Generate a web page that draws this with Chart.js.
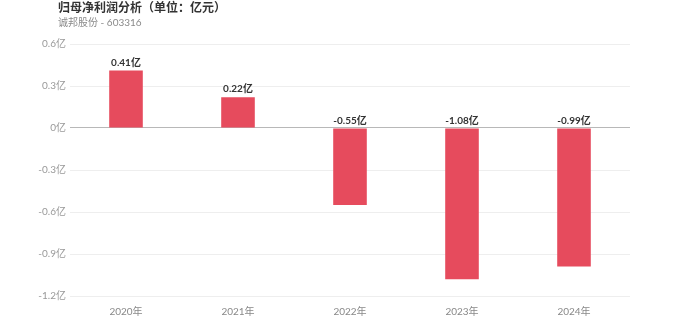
<!DOCTYPE html>
<html>
<head>
<meta charset="utf-8">
<script src="https://cdn.jsdelivr.net/npm/chart.js@4/dist/chart.umd.min.js"></script>
<style>
  html, body { margin: 0; padding: 0; background: #fff; }
  #wrap { width: 700px; height: 336px; position: relative; }
</style>
</head>
<body>
<div id="wrap"><canvas id="c" width="700" height="336"></canvas></div>
<script>
const years = ['2020年', '2021年', '2022年', '2023年', '2024年'];
const netProfit = [0.41, 0.22, -0.55, -1.08, -0.99];
const yTicks = [0.6, 0.3, 0, -0.3, -0.6, -0.9, -1.2];
const titleText = '归母净利润分析（单位：亿元）';
const subtitleText = '诚邦股份 - 603316';

const FONT = 'Lato, "Noto Sans CJK SC", sans-serif';

const fmt = v => (Math.round(v * 100) / 100) + '亿';

// Heading text in the top-left corner
const headingPlugin = {
  id: 'heading',
  afterDraw(chart) {
    const ctx = chart.ctx;
    ctx.save();
    ctx.textAlign = 'left';
    ctx.textBaseline = 'middle';
    ctx.fillStyle = '#333';
    ctx.font = 'bold 12px ' + FONT;
    ctx.fillText(titleText, 58, 8);
    ctx.fillStyle = '#8a8a8a';
    ctx.font = '10px ' + FONT;
    ctx.fillText(subtitleText, 58, 23);
    ctx.restore();
  }
};

// Value labels sit above the bar top, or above the zero line for negatives
const valueLabelPlugin = {
  id: 'valueLabels',
  afterDatasetsDraw(chart) {
    const ctx = chart.ctx;
    const meta = chart.getDatasetMeta(0);
    ctx.save();
    ctx.textAlign = 'center';
    ctx.textBaseline = 'bottom';
    ctx.fillStyle = '#333';
    ctx.font = 'bold 10px ' + FONT;
    meta.data.forEach((bar, i) => {
      const top = Math.min(bar.y, bar.base);
      ctx.fillText(fmt(netProfit[i]), bar.x, top - 3);
    });
    ctx.restore();
  }
};

new Chart(document.getElementById('c'), {
  type: 'bar',
  data: {
    labels: years,
    datasets: [{
      data: netProfit,
      backgroundColor: '#e64b5d',
      borderWidth: 0,
      barPercentage: 0.3,
      categoryPercentage: 1.0
    }]
  },
  options: {
    responsive: false,
    animation: false,
    layout: { padding: { top: 44, right: 70, left: 0, bottom: 0 } },
    plugins: {
      legend: { display: false },
      tooltip: { enabled: false }
    },
    scales: {
      x: {
        grid: { display: false },
        border: { display: false },
        ticks: { color: '#888', font: { size: 10, family: FONT }, padding: 2 },
        afterFit(scale) { scale.height = 40; }
      },
      y: {
        min: -1.2,
        max: 0.6,
        afterBuildTicks(scale) { scale.ticks = yTicks.map(v => ({ value: v })); },
        grid: {
          color: ctx => ctx.tick && ctx.tick.value === 0 ? '#b8b8b8' : '#eeeeee',
          lineWidth: 1,
          drawTicks: false
        },
        border: { display: false },
        ticks: {
          color: '#999',
          font: { size: 10, family: FONT },
          padding: 4,
          callback: v => fmt(v)
        },
        afterFit(scale) { scale.width = 70; }
      }
    }
  },
  plugins: [headingPlugin, valueLabelPlugin]
});
</script>
</body>
</html>
